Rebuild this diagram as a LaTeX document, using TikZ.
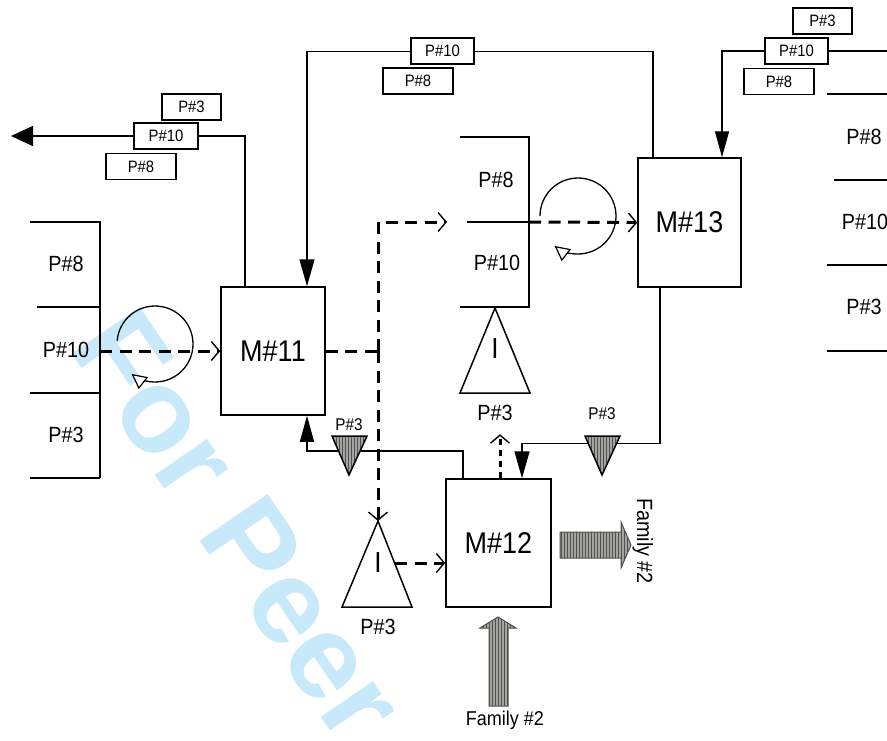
\documentclass[tikz,border=0pt]{standalone}
\usepackage{fontspec}
\setmainfont{Liberation Sans}[FakeStretch=0.9]
\newfontfamily\wmfont{Liberation Sans}
\usetikzlibrary{arrows.meta,patterns}
\definecolor{wm}{RGB}{200,233,250}
\definecolor{stripebg}{RGB}{165,165,160}
\definecolor{stripefg}{RGB}{80,80,80}
\newcommand{\fsz}[1]{\fontsize{#1}{#1}\selectfont}
\begin{document}
\begin{tikzpicture}[x=1pt,y=1pt,
  ln/.style={line width=1.5pt},
  dsh/.style={line width=3pt, dash pattern=on 12pt off 7.5pt},
  mbox/.style={draw, line width=1.5pt, fill=white, inner sep=0pt, font=\fsz{30}},
  lbox/.style={draw, line width=1.3pt, fill=white, inner sep=0pt, minimum height=26pt, font=\fsz{16.5}},
  rlbl/.style={inner sep=0pt, font=\fsz{22}},
  slbl/.style={inner sep=0pt, font=\fsz{17}},
  ilbl/.style={inner sep=0pt, font=\fsz{29}},
  tri/.style={line width=1.5pt, fill=white},
  gtri/.style={line width=1.5pt, preaction={fill=stripebg}, pattern=vertical lines, pattern color=stripefg},
  barb/.style={-{Straight Barb[length=8pt,width=19pt,line width=1.4pt]}},
  circarr/.style={line width=1.3pt, -{Triangle[open,fill=white,length=15pt,width=15pt,line width=1.2pt]}},
  bigarr/.style={line width=1pt, draw=stripefg, preaction={fill=stripebg}, pattern=vertical lines, pattern color=stripefg}
]
\useasboundingbox (0,0) rectangle (887,-740);
% watermark
\begin{scope}
\clip (0,0) rectangle (887,-740);
\node[text=wm, font=\wmfont\bfseries\fsz{120}, rotate=-55.6, inner sep=0pt] (wmark) at (239,-525) {For Peer};
\end{scope}

% racks
\draw[ln] (30,-222) -- (100,-222) -- (100,-478);
\draw[ln] (37,-307) -- (100,-307);
\draw[ln] (30,-393) -- (100,-393);
\draw[ln] (30,-478) -- (100,-478);
\node[rlbl] (l8) at (66,-264) {P\#8};
\node[rlbl] (l10) at (66,-350) {P\#10};
\node[rlbl] (l3) at (66,-435) {P\#3};

\draw[ln] (460,-137) -- (529,-137) -- (529,-307);
\draw[ln] (467,-222) -- (529,-222);
\draw[ln] (460,-307) -- (530,-307);
\node[rlbl] (m8) at (496,-180) {P\#8};
\node[rlbl] (m10) at (497,-263) {P\#10};

\draw[ln] (827,-94) -- (887,-94);
\draw[ln] (834,-180) -- (887,-180);
\draw[ln] (827,-265) -- (887,-265);
\draw[ln] (827,-351) -- (887,-351);
\node[rlbl] (r8) at (864,-137) {P\#8};
\node[rlbl] (r10) at (865,-222) {P\#10};
\node[rlbl] (r3) at (864,-307) {P\#3};

% machines
\node[mbox, minimum width=104pt, minimum height=128pt] (m11) at (273,-351) {M\#11};
\node[mbox, minimum width=103pt, minimum height=129pt] (m13) at (689.5,-222.5) {M\#13};
\node[mbox, minimum width=105pt, minimum height=128pt] (m12) at (498.5,-543) {M\#12};

% coordinates
\coordinate (rackL) at (100,-351);
\coordinate (rackM) at (529,-222);
\coordinate (j1) at (378,-351);
\coordinate (midIn) at (447,-222);
\coordinate (t2apex) at (378,-521);
\coordinate (t2r) at (395,-563);
\coordinate (exitL) at (11,-136);
\coordinate (trIn) at (887,-51);

% solid connectors
\draw[ln, -{Triangle[length=22pt,width=20pt]}] ([xshift=-28pt]m11.north) |- (exitL);
\draw[ln, -{Triangle[length=27pt,width=15pt]}] ([xshift=-36.5pt]m13.north) -- ++(0,106) -| ([xshift=34pt]m11.north);
\draw[ln, -{Triangle[length=26pt,width=14pt]}] (trIn) -| ([xshift=32.5pt]m13.north);
\draw[ln, -{Triangle[length=27pt,width=15pt]}] ([xshift=-29.5pt]m13.south) |- ([xshift=23.5pt,yshift=35pt]m12.north) -- ([xshift=23.5pt]m12.north);
\draw[ln, -{Triangle[length=26pt,width=14pt]}] ([xshift=-35.5pt]m12.north) |- ([xshift=34pt,yshift=-35pt]m11.south) -- ([xshift=34pt]m11.south);

% dashed connectors
\draw[dsh, barb] (rackL) -- (m11.west);
\draw[dsh] (m11.east) -- (j1);
\draw[dsh, barb] (j1) |- (midIn);
\draw[dsh, barb] (j1) -- (t2apex);
\draw[dsh, barb] (t2r) -- (t2r -| m12.west);
\draw[dsh, barb] (rackM) -- (m13.west);
\draw[dsh, barb, dash pattern=on 6pt off 5pt] ([xshift=1.5pt]m12.north) -- ++(0,44);

% circular arrows
\draw[circarr] (155,-344) ++(175:38) arc[start angle=175, end angle=-128, radius=38];
\draw[circarr] (578,-216) ++(180:38) arc[start angle=180, end angle=-128, radius=38];

% label boxes
\node[lbox, minimum width=59pt] (tl3) at (191.5,-107) {P\#3};
\node[lbox, minimum width=64pt] (tl10) at (166,-136) {P\#10};
\node[lbox, minimum width=70pt] (tl8) at (141,-166.5) {P\#8};
\node[lbox, minimum width=63pt] (tc10) at (442.5,-51) {P\#10};
\node[lbox, minimum width=70pt] (tc8) at (418,-81) {P\#8};
\node[lbox, minimum width=59pt] (tr3) at (822.5,-21) {P\#3};
\node[lbox, minimum width=63pt] (tr10) at (796.5,-51) {P\#10};
\node[lbox, minimum width=70pt] (tr8) at (779,-81.5) {P\#8};

% triangles
\draw[tri] (495,-308) coordinate (t1apex) -- (460,-393) -- (530,-393) -- cycle;
\node[ilbl] (t1i) at (495,-349) {I};
\node[rlbl] (t1l) at (495,-413) {P\#3};
\draw[tri] (t2apex) -- (342,-607) -- (412,-607) -- cycle;
\node[ilbl] (t2i) at (378,-563) {I};
\node[rlbl] (t2l) at (378,-627) {P\#3};
\draw[gtri] (332,-436) -- (367,-436) -- (349,-475) -- cycle;
\node[slbl] (g1l) at (349,-425) {P\#3};
\draw[gtri] (585,-436) -- (620,-436) -- (602,-475) -- cycle;
\node[slbl] (g2l) at (602,-414) {P\#3};

% family arrows
\draw[bigarr] (560,-532) -- (621,-532) -- (621,-522) -- (631,-545) -- (621,-568) -- (621,-558) -- (560,-558) -- cycle;
\node[inner sep=0pt, font=\fsz{22}, rotate=-90, anchor=base] (fam1) at (637,-541) {Family \#2};
\draw[bigarr] (489,-706) -- (489,-628) -- (480,-628) -- (498,-617) -- (516,-628) -- (508,-628) -- (508,-706) -- cycle;
\node[inner sep=0pt, font=\fsz{20}, anchor=base] (fam2) at (505,-725) {Family \#2};
\end{tikzpicture}
\end{document}
